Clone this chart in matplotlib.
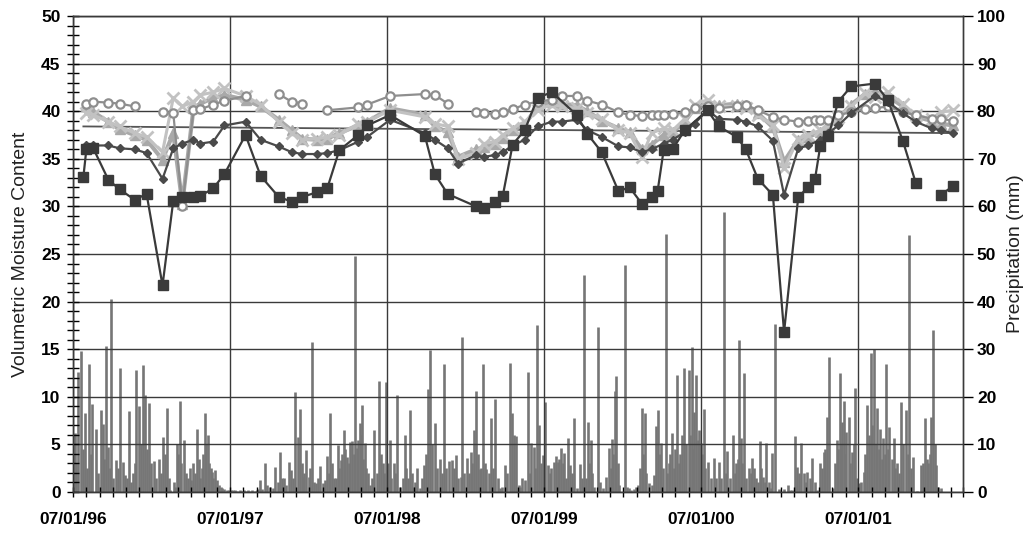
import numpy as np
import pandas as pd
import matplotlib
matplotlib.use('Agg')
import matplotlib.pyplot as plt
import matplotlib.dates as mdates
from matplotlib.ticker import MultipleLocator

plt.rcParams['font.family'] = ['Liberation Sans', 'DejaVu Sans']

# sampling dates of the moisture probes
dates = ['1996-07-25', '1996-08-01', '1996-08-17', '1996-09-21', '1996-10-17', '1996-11-21',
         '1996-12-19', '1997-01-25', '1997-02-19', '1997-03-12', '1997-04-07', '1997-04-23',
         '1997-05-23', '1997-06-18', '1997-08-06', '1997-09-10', '1997-10-22', '1997-11-21',
         '1997-12-16', '1998-01-20', '1998-02-12', '1998-03-12', '1998-04-25', '1998-05-16',
         '1998-07-08', '1998-09-27', '1998-10-20', '1998-11-19', '1998-12-13', '1999-01-24',
         '1999-02-11', '1999-03-09', '1999-03-27', '1999-04-19', '1999-05-17', '1999-06-16',
         '1999-07-19', '1999-08-11', '1999-09-15', '1999-10-10', '1999-11-12', '1999-12-21',
         '2000-01-16', '2000-02-13', '2000-03-07', '2000-03-21', '2000-04-04', '2000-04-25',
         '2000-05-23', '2000-06-15', '2000-07-15', '2000-08-10', '2000-09-21', '2000-10-12',
         '2000-11-09', '2000-12-14', '2001-01-09', '2001-02-11', '2001-03-06', '2001-03-22',
         '2001-04-03', '2001-04-22', '2001-05-15', '2001-06-14', '2001-07-16', '2001-08-08',
         '2001-09-07', '2001-10-12', '2001-11-11', '2001-12-18', '2002-01-08', '2002-02-05']

nan = np.nan
squares = [33.1, 36.0, 36.1, 32.8, 31.8, 30.7, 31.3, 21.7, 30.6, 31.0, 31.0, 31.1,
           31.9, 33.4, 37.5, 33.2, 31.0, 30.5, 31.0, 31.5, 31.9, 35.9, 37.5, 38.5,
           39.6, 37.4, 33.4, 31.3, nan, 30.0, 29.8, 30.5, 31.1, 36.5, 38.0, 41.4,
           42.0, nan, 39.6, 37.6, 35.7, 31.6, 32.0, 30.3, 31.0, 31.6, 35.9, 36.0,
           38.0, nan, 40.1, 38.4, 37.3, 36.0, 32.9, 31.2, 16.8, 31.0, 32.0, 32.9,
           36.3, 37.4, 41.0, 42.6, nan, 42.9, 41.2, 36.9, 32.5, nan, 31.2, 32.1]
diamonds = [nan, 36.4, 36.4, 36.4, 36.1, 36.0, 35.6, 32.9, 36.1, 36.6, 37.0, 36.6,
            36.8, 38.5, 38.9, 37.0, 36.3, 35.7, 35.5, 35.5, 35.6, 35.9, 36.8, 37.3,
            39.1, 37.7, 37.0, 36.1, 34.5, 35.4, 35.2, 35.4, 35.7, 36.4, 37.0, 38.4,
            38.9, 38.9, 39.1, 38.0, 37.3, 36.3, 36.2, 35.7, 36.0, nan, 36.6, 37.0,
            37.8, 38.7, 40.1, 39.2, 39.1, 38.9, 38.4, 36.9, 31.2, 36.1, 36.4, nan,
            37.0, 37.7, 38.5, 39.8, nan, 41.6, 41.0, 39.8, 38.9, 38.2, 38.0, 37.7]
circles = [nan, 40.8, 41.0, 40.9, 40.8, 40.5, nan, 39.9, 39.8, 30.0, 40.1, 40.2,
           40.7, 41.1, 41.6, nan, 41.8, 41.0, 40.8, nan, 40.1, nan, 40.4, 40.7,
           41.6, 41.8, 41.7, 40.8, nan, 39.9, 39.8, 39.7, 39.9, 40.2, 40.7, 41.0,
           41.2, 41.6, 41.6, 41.1, 40.7, 39.9, 39.6, 39.5, 39.6, 39.6, 39.6, 39.7,
           39.9, 40.3, 40.5, 40.3, 40.5, 40.7, 40.1, 39.4, 39.1, 38.9, 39.0, 39.1,
           39.1, 39.1, 39.6, 39.9, 40.2, 40.3, 40.5, 39.9, 39.6, 39.2, 39.2, 39.0]
crosses = [nan, 39.8, 39.6, 38.9, 38.4, 37.7, 37.3, 35.7, 41.4, 40.5, 41.0, 41.7,
           42.0, 42.4, 41.6, 40.7, 38.9, 37.7, 37.0, 37.1, 37.3, 37.5, 38.7, 38.9,
           40.1, 39.4, 38.7, 38.4, 35.0, 35.6, 36.6, 36.8, 37.5, 38.2, 38.9, 40.1,
           40.7, 40.5, 40.3, 39.8, 39.2, 38.0, 37.7, 35.2, 37.7, nan, 38.2, 38.0,
           39.2, 40.7, 41.2, 40.5, 40.5, 40.3, 39.6, 38.5, 34.0, 37.1, 37.5, nan,
           38.0, 38.5, 39.4, 40.5, 41.9, 41.5, 42.0, 40.8, 39.6, 39.2, 39.9, 40.1]
triangles = [nan, 40.5, 39.9, 38.9, 38.1, 37.5, 37.0, 34.9, 37.7, 30.3, 40.3, 40.8,
             41.4, 41.7, 41.2, 40.5, 39.1, 38.0, 37.1, 37.0, 37.1, 37.7, 38.5, 38.9,
             40.3, 39.6, 38.4, 37.8, 35.2, 36.0, 36.2, 36.6, 37.2, 38.0, 38.6, 40.5,
             41.0, 40.8, 40.6, 40.0, 39.0, 38.2, 37.8, 36.0, 36.5, nan, 37.5, 37.8,
             38.9, 40.3, 40.8, 40.6, 40.8, 40.6, 39.8, 38.3, 34.7, 37.0, 37.3, nan,
             37.8, 38.3, 39.2, 40.7, 41.8, 42.0, 41.6, 40.5, 39.4, 39.0, 38.7, 38.5]

# dates where a series starts again after a break in its line
square_breaks = ['2002-01-08']
circle_breaks = ['1997-01-25', '1997-10-22', '1998-02-12', '1999-01-24']

trend_dates = ['1996-07-25', '2002-02-05']
trend_vals = [38.4, 37.7]

# daily precipitation, (days after 07/01/96, mm)
precip_start = '1996-07-01'
precip_y1 = [(5, 12.3), (8, 6), (12, 25.3), (18, 29.7), (22, 9), (28, 16.7), (33, 5), (38, 26.9),
             (42, 8), (45, 18.5), (53, 13.2), (58, 4), (65, 17.2), (69, 14.3), (72, 7), (77, 30.7),
             (82, 9.5), (85, 5), (89, 40.5), (93, 3), (100, 6.7), (105, 5), (110, 26), (116, 6.2),
             (120, 3.5), (125, 3), (130, 17), (135, 2), (139, 4), (143, 6), (147, 25.6), (154, 18),
             (158, 10), (163, 26.7), (168, 20.4), (172, 9), (176, 18.6), (181, 6), (189, 6.5),
             (194, 3), (199, 7), (204, 4), (209, 11.6), (213, 8), (218, 17.7), (222, 3), (226, 0.4),
             (234, 2), (238, 1), (242, 10), (245, 8), (248, 19.2), (252, 6), (257, 11), (262, 4),
             (267, 3), (271, 5), (275, 2.5), (279, 6), (283, 4), (287, 13.2), (292, 7), (296, 3),
             (300, 5), (303, 8), (306, 16.7), (310, 10), (313, 12), (317, 6), (320, 5), (323, 4.3),
             (326, 3), (329, 4.6), (334, 2.5), (339, 1.5), (343, 1.0), (347, 0.8), (352, 0.6),
             (357, 0.5), (362, 0.5)]
precip_y2 = [(367, 0.4), (372, 0.4), (377, 0.4), (382, 0.3), (387, 0.4), (392, 0.3), (397, 0.4),
             (402, 0.3), (407, 0.4), (412, 0.3), (417, 0.5), (422, 0.3), (427, 0.4), (431, 0.6),
             (435, 2.5), (440, 0.6), (447, 6), (452, 1.5), (458, 1), (464, 0.8), (470, 5.3),
             (476, 2), (482, 8.5), (486, 3), (490, 2.9), (495, 1.5), (501, 6.2), (507, 4.6),
             (512, 3), (517, 21), (522, 11.6), (528, 17.4), (532, 6), (535, 3.2), (538, 4),
             (542, 8.8), (548, 3.2), (552, 5), (556, 31.6), (560, 2), (565, 1.8), (569, 3),
             (573, 5.5), (580, 1.8), (585, 2.5), (591, 7.6), (594, 4), (598, 16.5), (602, 6),
             (606, 2.9), (611, 3), (616, 9.9), (619, 5), (622, 6.7), (626, 8), (629, 13), (633, 9),
             (637, 7.4), (641, 6), (645, 10.6), (649, 10.8), (652, 8), (656, 49.6), (660, 9.2),
             (663, 11), (666, 14.4), (669, 12), (672, 18.3), (675, 7), (678, 10.2), (682, 5),
             (686, 3.9), (690, 1.5), (695, 2.9), (700, 13), (706, 3.9), (712, 23.3), (716, 8),
             (720, 6), (724, 4), (728, 23.2)]
precip_y3 = [(732, 6), (736, 10.9), (740, 3), (745, 6), (749, 4), (753, 20.4), (761, 1.1), (766, 3),
             (771, 12), (775, 5), (778, 2.9), (784, 17.2), (788, 4), (792, 1.1), (796, 2), (800, 5),
             (807, 0.8), (812, 3), (817, 5.7), (821, 8), (825, 21.6), (831, 29.8), (835, 10),
             (841, 14.6), (846, 5), (852, 7), (858, 4), (863, 26.9), (868, 5), (874, 6.6), (880, 6.7),
             (885, 5), (891, 7.8), (896, 3), (901, 3.2), (905, 32.5), (910, 4), (916, 7.1), (920, 4),
             (925, 8.5), (928, 6), (932, 13), (937, 21.2), (941, 8), (945, 4.8), (949, 5), (953, 26.9),
             (957, 6), (961, 4.8), (966, 4), (972, 15.5), (977, 5), (981, 19.5), (987, 3), (992, 0.8),
             (998, 1), (1005, 5.7), (1010, 4), (1015, 27.2), (1021, 16.7), (1025, 12), (1029, 11.8),
             (1036, 1.5), (1040, 1), (1044, 2.9), (1051, 2.5), (1058, 25.3), (1062, 4), (1065, 10.2),
             (1071, 9.5), (1075, 5), (1079, 35.1), (1084, 14.1), (1088, 6), (1092, 7.8)]
precip_y4 = [(1098, 19), (1104, 5.7), (1108, 4), (1112, 5), (1117, 6.4), (1123, 7.6), (1127, 6.4),
             (1130, 7), (1134, 9.2), (1138, 6), (1141, 8.3), (1145, 2.9), (1151, 11.3), (1156, 5.7),
             (1160, 4), (1165, 15.5), (1172, 0.8), (1178, 5.8), (1183, 3), (1187, 45.6), (1193, 2.9),
             (1197, 14.8), (1200, 6), (1203, 10.9), (1207, 4), (1212, 1.1), (1221, 34.7), (1225, 2),
             (1232, 0.8), (1239, 3.2), (1246, 9.2), (1250, 5), (1253, 11.1), (1256, 8), (1259, 21.3),
             (1263, 24.4), (1266, 6), (1270, 1.5), (1283, 47.7), (1288, 1), (1292, 0.8), (1298, 0.5),
             (1304, 0.6), (1309, 1), (1314, 1.5), (1318, 5), (1322, 17.7), (1325, 8), (1329, 16.7),
             (1333, 4), (1339, 1.8), (1345, 1.5), (1350, 3.6), (1356, 13.9), (1361, 17.2), (1364, 8),
             (1368, 10.2), (1372, 5), (1378, 54.3), (1382, 4), (1385, 6), (1388, 8), (1392, 12.5),
             (1396, 5), (1400, 9), (1403, 24.6), (1408, 6), (1412, 8), (1416, 12), (1421, 26),
             (1426, 10), (1431, 25.6), (1434, 12), (1438, 30.5), (1441, 9), (1444, 16.9),
             (1449, 24.6), (1452, 11), (1455, 13), (1460, 10.2)]
precip_y5 = [(1463, 8), (1466, 17.4), (1470, 5), (1476, 6.2), (1483, 2.9), (1490, 7.1), (1495, 3),
             (1501, 6.2), (1507, 2.9), (1513, 58.8), (1517, 4), (1521, 8.6), (1528, 2.9), (1535, 12),
             (1539, 4), (1542, 6), (1545, 7), (1548, 32), (1553, 11.3), (1556, 6), (1559, 24.9),
             (1565, 3), (1571, 5), (1575, 4), (1579, 7.1), (1583, 5), (1587, 2.9), (1592, 2),
             (1596, 10.8), (1600, 5), (1604, 3.2), (1608, 2), (1612, 10.2), (1617, 2), (1622, 0.8),
             (1626, 8.1), (1632, 35.3), (1641, 0.6), (1653, 0.6), (1662, 1.5), (1667, 0.5),
             (1672, 0.4), (1678, 11.8), (1684, 5.3), (1688, 4), (1692, 10.2), (1699, 3.9), (1703, 2),
             (1707, 4.3), (1713, 3), (1719, 7.1), (1724, 2), (1730, 0.4), (1737, 6), (1741, 5),
             (1745, 8.5), (1749, 9), (1753, 15.7), (1758, 28.4), (1766, 0.8), (1771, 6), (1776, 10.9),
             (1779, 9), (1782, 25.1), (1785, 10), (1788, 14.8), (1792, 19.2), (1795, 8), (1798, 12.7),
             (1803, 15.7), (1807, 6), (1811, 8.5), (1815, 10), (1819, 21.8), (1823, 3)]
precip_y6 = [(1827, 1.8), (1833, 2), (1838, 4.1), (1842, 8), (1846, 18.3), (1850, 12), (1854, 29.1),
             (1858, 14), (1863, 30), (1866, 10), (1870, 17.7), (1873, 9), (1877, 13.2), (1881, 7),
             (1884, 11.3), (1887, 8), (1890, 26.9), (1894, 9), (1898, 13.6), (1903, 7), (1908, 11.3),
             (1912, 5), (1916, 6), (1920, 4), (1926, 19), (1930, 10), (1936, 17.2), (1940, 8),
             (1943, 54), (1948, 5), (1953, 7.4), (1963, 0.2), (1971, 5.7), (1976, 6), (1981, 15.5),
             (1985, 7), (1988, 6), (1992, 8), (1995, 15.7), (1999, 34), (2003, 10), (2007, 5.7),
             (2012, 1), (2017, 0.8)]


def pieces(vals, breaks):
    s = pd.Series(vals, index=pd.to_datetime(dates)).dropna()
    cuts = [s.index[0]] + list(pd.to_datetime(breaks)) + [s.index[-1] + pd.Timedelta(days=1)]
    for a, b in zip(cuts[:-1], cuts[1:]):
        yield s[(s.index >= a) & (s.index < b)]


fig = plt.figure(figsize=(10.26, 5.33), dpi=100)
ax = fig.add_axes([0.0712, 0.0769, 0.8674, 0.8931])
ax2 = ax.twinx()
ax.set_zorder(ax2.get_zorder() + 1)
ax.patch.set_visible(False)

# precipitation spikes
prec = precip_y1 + precip_y2 + precip_y3 + precip_y4 + precip_y5 + precip_y6
p_day = np.array([d for d, _ in prec])
p_mm = np.array([v for _, v in prec])
p_dates = pd.Timestamp(precip_start) + pd.to_timedelta(p_day, unit='D')
ax2.vlines(p_dates, 0, p_mm, color='#767676', lw=1.9)
ax2.set_ylim(0, 100)
ax2.yaxis.set_major_locator(MultipleLocator(10))

# moisture series
ax.plot(pd.to_datetime(trend_dates), trend_vals, color='#555555', lw=1.3, zorder=2)
for s in pieces(triangles, []):
    ax.plot(s.index, s.values, color='#a9a9a9', lw=3, marker='^', ms=7, zorder=3)
for s in pieces(crosses, []):
    ax.plot(s.index, s.values, color='#c2c2c2', lw=2.2, marker='x', ms=9, mew=2, zorder=4)
for s in pieces(circles, circle_breaks):
    ax.plot(s.index, s.values, color='#8e8e8e', lw=1.6, marker='o', ms=6, mfc='white',
            mec='#8e8e8e', mew=1.6, zorder=5)
for s in pieces(diamonds, []):
    ax.plot(s.index, s.values, color='#4a4a4a', lw=1.6, marker='D', ms=4.5, zorder=6)
for s in pieces(squares, square_breaks):
    ax.plot(s.index, s.values, color='#3a3a3a', lw=1.6, marker='s', ms=7.5, zorder=7)

ax.set_ylim(0, 50)
ax.set_xlim(pd.Timestamp('1996-07-01'), pd.Timestamp('2002-03-01'))
ax.yaxis.set_major_locator(MultipleLocator(5))
ax.yaxis.set_minor_locator(MultipleLocator(1))
ax.xaxis.set_major_locator(mdates.YearLocator(month=7, day=1))
ax.xaxis.set_minor_locator(mdates.MonthLocator())
ax.xaxis.set_major_formatter(mdates.DateFormatter('%m/%d/%y'))
ax.grid(True, which='major', color='#3a3a3a', lw=1)

ax.tick_params(axis='y', which='both', direction='inout', length=8, width=1, pad=5,
               labelsize=12.5)
ax.tick_params(axis='x', which='both', direction='inout', length=7, width=1, pad=11,
               labelsize=12.5)
ax2.tick_params(axis='y', direction='out', length=7, width=1, pad=3, labelsize=12.5)
for lab in ax.get_xticklabels() + ax.get_yticklabels() + ax2.get_yticklabels():
    lab.set_fontweight('bold')

for a in (ax, ax2):
    for sp in a.spines.values():
        sp.set_color('#3a3a3a')
        sp.set_linewidth(1)

ax.set_ylabel('Volumetric Moisture Content', fontsize=14, color='#222222', labelpad=9)
ax2.set_ylabel('Precipitation (mm)', fontsize=14, color='#222222', labelpad=1)

fig.savefig('out.png', dpi=100)
